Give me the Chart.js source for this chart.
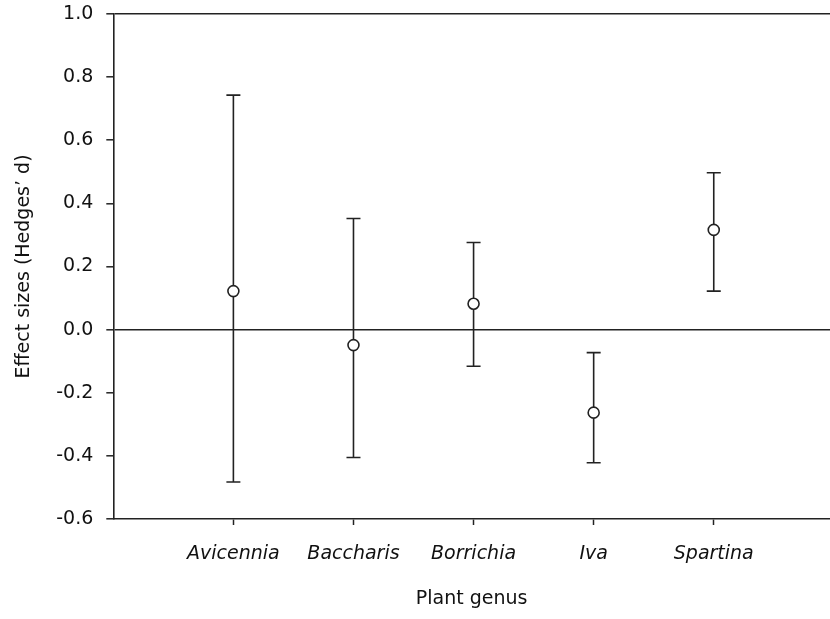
<!DOCTYPE html>
<html>
<head>
<meta charset="utf-8">
<script src="https://cdn.jsdelivr.net/npm/chart.js@4.4.1/dist/chart.umd.min.js"></script>
<style>
  html, body { margin: 0; padding: 0; background: #fff; }
  #wrap { width: 830px; height: 619px; }
</style>
</head>
<body>
<div id="wrap"><canvas id="c" width="830" height="619"></canvas></div>
<script>
// Effect sizes (Hedges' d) by plant genus, with 95% confidence limits
const categories = ['Avicennia', 'Baccharis', 'Borrichia', 'Iva', 'Spartina'];
const effectSize = [0.122, -0.049, 0.082, -0.263, 0.316];
const ciUpper    = [0.743, 0.352, 0.276, -0.073, 0.497];
const ciLower    = [-0.483, -0.405, -0.116, -0.422, 0.122];
const yTickValues = [-0.6, -0.4, -0.2, 0.0, 0.2, 0.4, 0.6, 0.8, 1.0];

const INK = '#222';
const TEXT = '#111';
const FONT = '"DejaVu Sans", "Open Sans", sans-serif';
const FONT_SIZE = 19;

// Whiskers with end caps, drawn beneath the point markers
const errorBars = {
  id: 'errorBars',
  beforeDatasetsDraw(chart) {
    const { ctx, scales: { x, y } } = chart;
    ctx.save();
    ctx.strokeStyle = INK;
    ctx.lineWidth = 1.6;
    const cap = 7;
    categories.forEach((_, i) => {
      const px = x.getPixelForValue(i + 1);
      const yHi = y.getPixelForValue(ciUpper[i]);
      const yLo = y.getPixelForValue(ciLower[i]);
      ctx.beginPath();
      ctx.moveTo(px, yHi); ctx.lineTo(px, yLo);
      ctx.moveTo(px - cap, yHi); ctx.lineTo(px + cap, yHi);
      ctx.moveTo(px - cap, yLo); ctx.lineTo(px + cap, yLo);
      ctx.stroke();
    });
    ctx.restore();
  }
};

new Chart(document.getElementById('c'), {
  type: 'scatter',
  data: {
    datasets: [{
      data: effectSize.map((v, i) => ({ x: i + 1, y: v })),
      pointRadius: 5.5,
      pointHoverRadius: 5.5,
      pointBorderWidth: 1.6,
      pointBackgroundColor: '#fff',
      pointBorderColor: INK
    }]
  },
  options: {
    responsive: false,
    animation: false,
    events: [],
    layout: { autoPadding: false, padding: { top: 14, right: 0, left: 0, bottom: 0 } },
    plugins: { legend: { display: false }, tooltip: { enabled: false } },
    scales: {
      x: {
        type: 'linear',
        min: 0,
        max: 5.968,
        afterFit(scale) {
          scale.height = 100;
          scale.paddingLeft = 0;
          scale.paddingRight = 0;
        },
        afterBuildTicks(scale) { scale.ticks = categories.map((_, i) => ({ value: i + 1 })); },
        ticks: {
          autoSkip: false,
          maxRotation: 0,
          padding: 18,
          color: TEXT,
          font: { family: FONT, size: FONT_SIZE, style: 'italic' },
          callback: (v) => categories[v - 1] ?? ''
        },
        grid: {
          drawOnChartArea: false,
          drawTicks: true,
          tickLength: 6,
          tickColor: INK,
          tickWidth: 1.5
        },
        border: { display: true, color: INK, width: 1.6 },
        title: {
          display: true,
          text: 'Plant genus',
          color: TEXT,
          font: { family: FONT, size: FONT_SIZE },
          padding: { top: 0, bottom: 9 }
        }
      },
      y: {
        min: -0.6,
        max: 1.0,
        afterFit(scale) {
          scale.width = 113.3;
          scale.paddingTop = 0;
          scale.paddingBottom = 0;
        },
        afterBuildTicks(scale) { scale.ticks = yTickValues.map(v => ({ value: v })); },
        ticks: {
          padding: 13,
          color: TEXT,
          font: { family: FONT, size: FONT_SIZE },
          callback: (v) => Number(v).toFixed(1)
        },
        grid: {
          drawTicks: true,
          tickLength: 7,
          tickColor: INK,
          tickWidth: 1.5,
          lineWidth: 1.6,
          color: (ctx) => (ctx.tick && (Math.abs(ctx.tick.value) < 1e-9 || Math.abs(ctx.tick.value - 1) < 1e-9)) ? INK : 'rgba(0,0,0,0)'
        },
        border: { display: true, color: INK, width: 1.6 },
        title: {
          display: true,
          text: 'Effect sizes (Hedges’ d)',
          color: TEXT,
          font: { family: FONT, size: FONT_SIZE },
          padding: { top: 13, bottom: 0 }
        }
      }
    }
  },
  plugins: [errorBars]
});
</script>
</body>
</html>
